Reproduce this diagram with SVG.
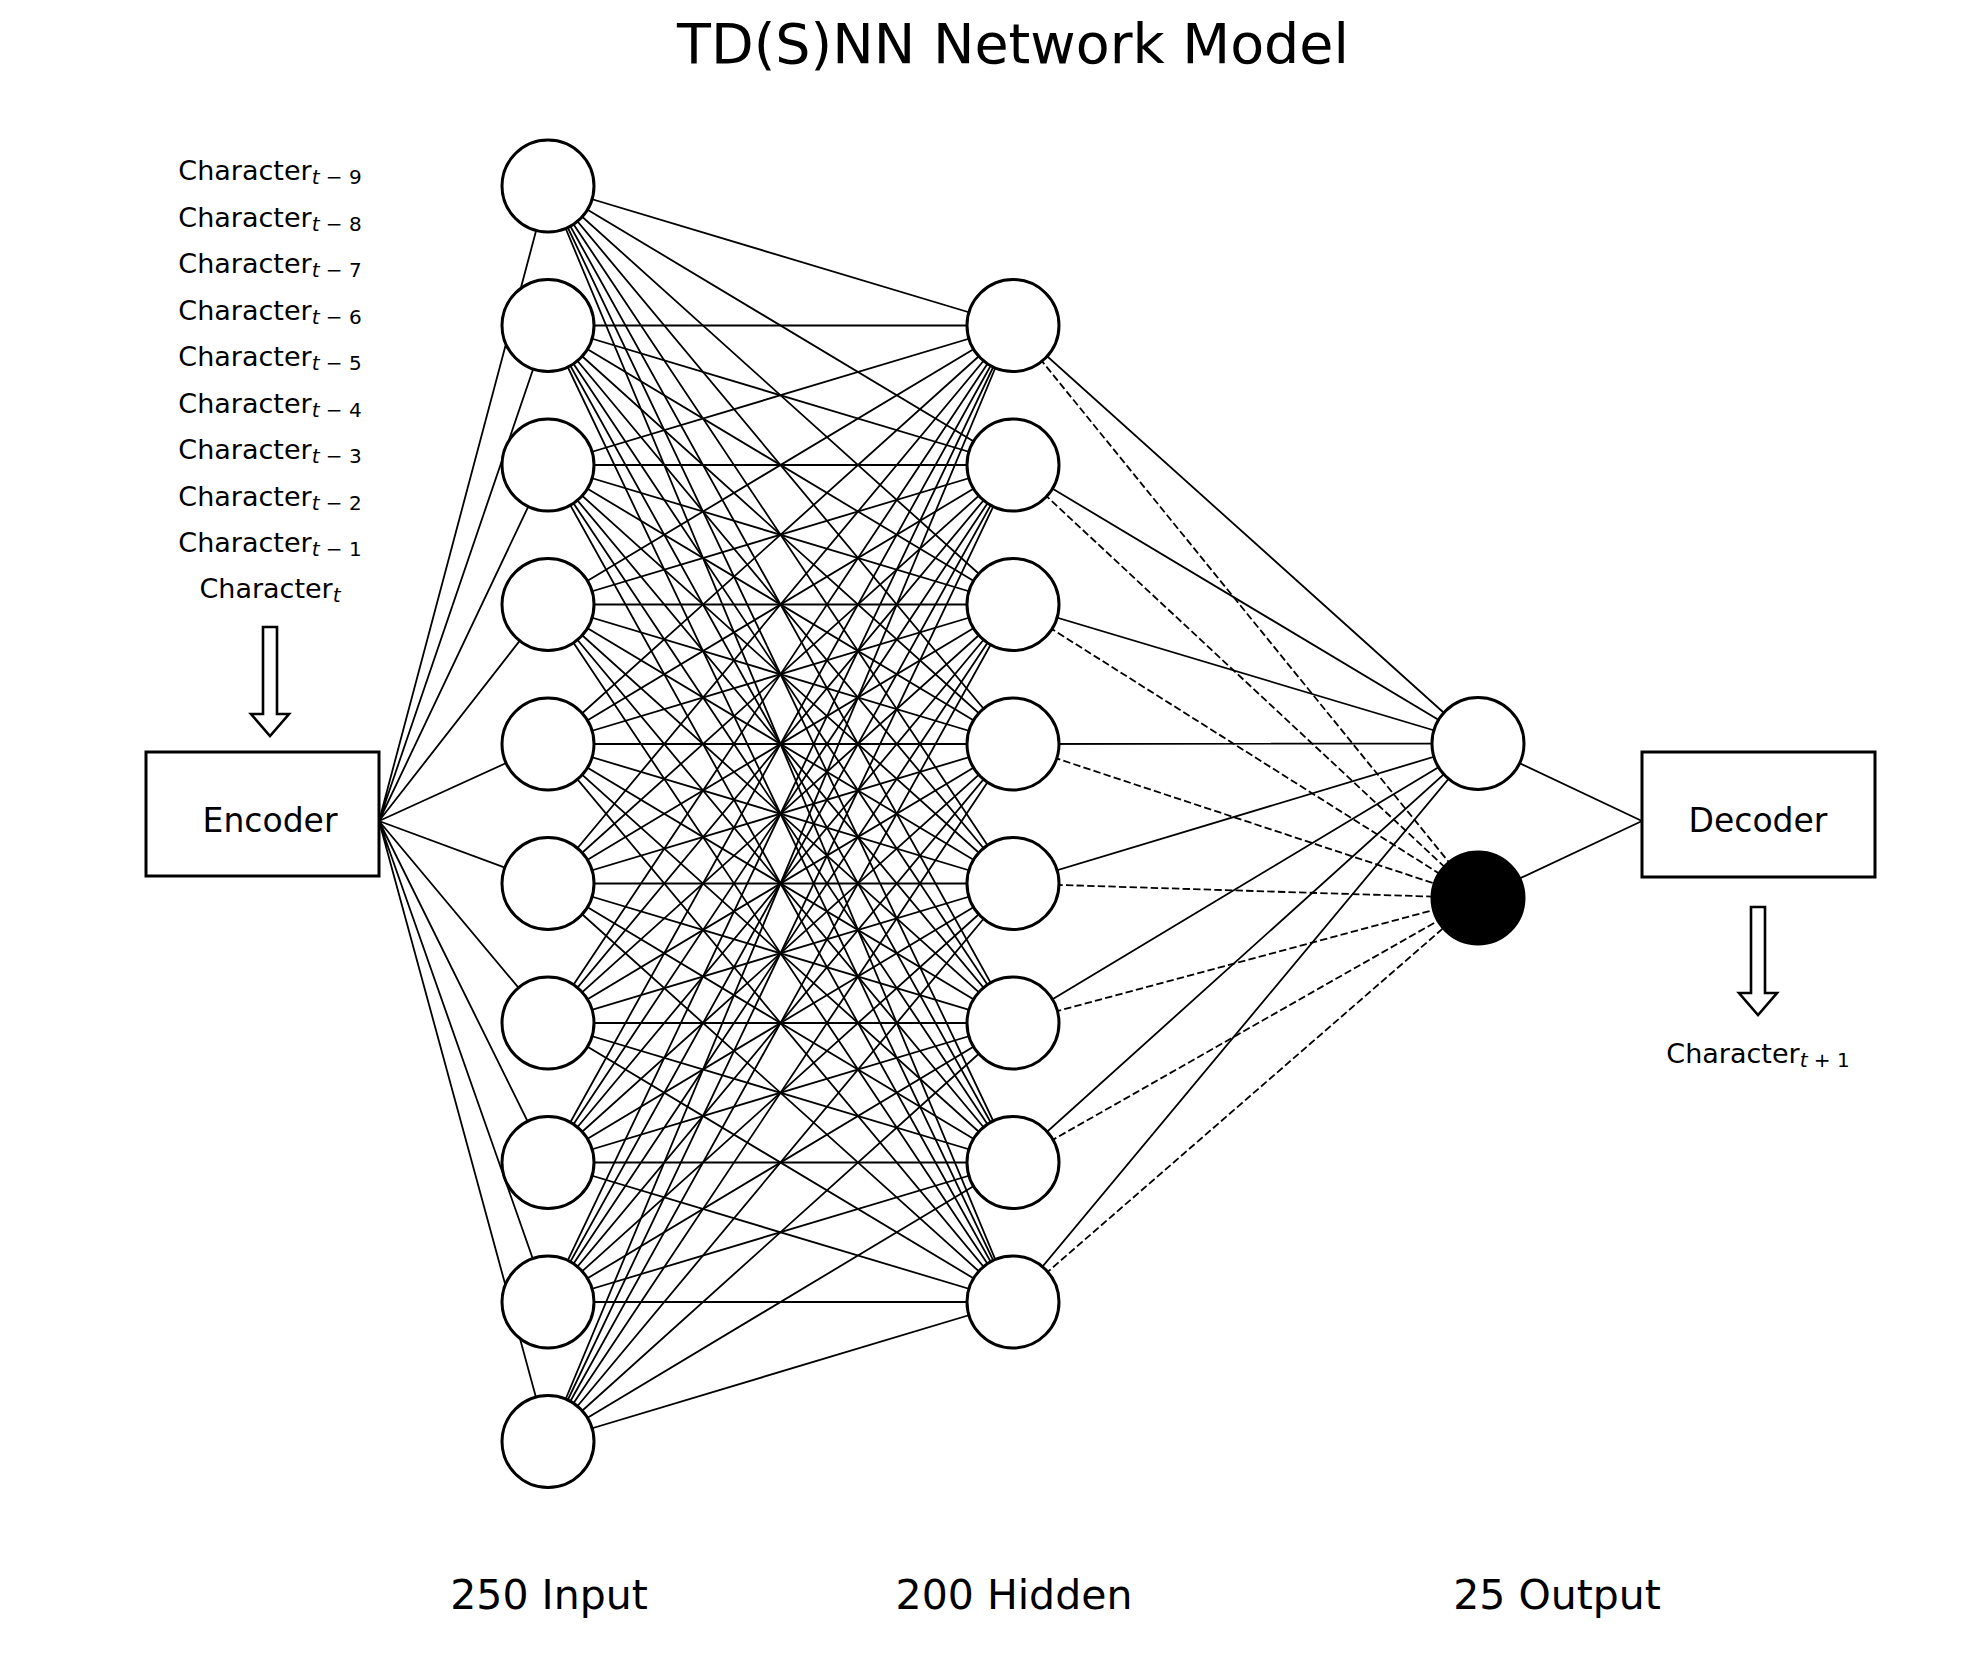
<svg xmlns="http://www.w3.org/2000/svg" width="1985" height="1664" viewBox="0 0 1985 1664">
<style>
text{font-family:"DejaVu Sans","Liberation Sans",sans-serif;fill:#000}
.lbl{font-size:27px;text-anchor:middle}
.sub{font-size:20px}
.it{font-style:italic}
.big{font-size:41px;text-anchor:middle}
.box{fill:#fff;stroke:#000;stroke-width:3}
.node{fill:#fff;stroke:#000;stroke-width:3}
.bnode{fill:#000;stroke:#000;stroke-width:3}
.e{stroke:#000;stroke-width:1.8;fill:none}
.d{stroke:#000;stroke-width:1.8;fill:none;stroke-dasharray:7.4 3.2}
.arrow{fill:#fff;stroke:#000;stroke-width:2.6;stroke-linejoin:miter}
</style>
<rect width="1985" height="1664" fill="#fff"/>
<text x="1013" y="63" font-size="55.5" text-anchor="middle">TD(S)NN Network Model</text>

<g id="labels">
<text class="lbl" x="270" y="180">Character<tspan class="sub it" dy="4">t</tspan><tspan class="sub"> − 9</tspan></text>
<text class="lbl" x="270" y="226.5">Character<tspan class="sub it" dy="4">t</tspan><tspan class="sub"> − 8</tspan></text>
<text class="lbl" x="270" y="273">Character<tspan class="sub it" dy="4">t</tspan><tspan class="sub"> − 7</tspan></text>
<text class="lbl" x="270" y="319.5">Character<tspan class="sub it" dy="4">t</tspan><tspan class="sub"> − 6</tspan></text>
<text class="lbl" x="270" y="366">Character<tspan class="sub it" dy="4">t</tspan><tspan class="sub"> − 5</tspan></text>
<text class="lbl" x="270" y="412.5">Character<tspan class="sub it" dy="4">t</tspan><tspan class="sub"> − 4</tspan></text>
<text class="lbl" x="270" y="459">Character<tspan class="sub it" dy="4">t</tspan><tspan class="sub"> − 3</tspan></text>
<text class="lbl" x="270" y="505.5">Character<tspan class="sub it" dy="4">t</tspan><tspan class="sub"> − 2</tspan></text>
<text class="lbl" x="270" y="552">Character<tspan class="sub it" dy="4">t</tspan><tspan class="sub"> − 1</tspan></text>
<text class="lbl" x="270" y="598">Character<tspan class="sub it" dy="4">t</tspan></text>
<text class="lbl" x="1758" y="1063">Character<tspan class="sub it" dy="4">t</tspan><tspan class="sub"> + 1</tspan></text>
<text class="big" x="549" y="1609">250 Input</text>
<text class="big" x="1014" y="1609">200 Hidden</text>
<text class="big" x="1557" y="1609">25 Output</text>
</g>

<g id="connectors">
<path class="e" d="M379 821L548 186M379 821L548 325.5M379 821L548 465M379 821L548 604.5M379 821L548 744M379 821L548 883.5M379 821L548 1023M379 821L548 1162.5M379 821L548 1302M379 821L548 1441.5"/>
<path class="e" d="M548 186L1013 325.5M548 186L1013 465M548 186L1013 604.5M548 186L1013 744M548 186L1013 883.5M548 186L1013 1023M548 186L1013 1162.5M548 186L1013 1302"/>
<path class="e" d="M548 325.5L1013 325.5M548 325.5L1013 465M548 325.5L1013 604.5M548 325.5L1013 744M548 325.5L1013 883.5M548 325.5L1013 1023M548 325.5L1013 1162.5M548 325.5L1013 1302"/>
<path class="e" d="M548 465L1013 325.5M548 465L1013 465M548 465L1013 604.5M548 465L1013 744M548 465L1013 883.5M548 465L1013 1023M548 465L1013 1162.5M548 465L1013 1302"/>
<path class="e" d="M548 604.5L1013 325.5M548 604.5L1013 465M548 604.5L1013 604.5M548 604.5L1013 744M548 604.5L1013 883.5M548 604.5L1013 1023M548 604.5L1013 1162.5M548 604.5L1013 1302"/>
<path class="e" d="M548 744L1013 325.5M548 744L1013 465M548 744L1013 604.5M548 744L1013 744M548 744L1013 883.5M548 744L1013 1023M548 744L1013 1162.5M548 744L1013 1302"/>
<path class="e" d="M548 883.5L1013 325.5M548 883.5L1013 465M548 883.5L1013 604.5M548 883.5L1013 744M548 883.5L1013 883.5M548 883.5L1013 1023M548 883.5L1013 1162.5M548 883.5L1013 1302"/>
<path class="e" d="M548 1023L1013 325.5M548 1023L1013 465M548 1023L1013 604.5M548 1023L1013 744M548 1023L1013 883.5M548 1023L1013 1023M548 1023L1013 1162.5M548 1023L1013 1302"/>
<path class="e" d="M548 1162.5L1013 325.5M548 1162.5L1013 465M548 1162.5L1013 604.5M548 1162.5L1013 744M548 1162.5L1013 883.5M548 1162.5L1013 1023M548 1162.5L1013 1162.5M548 1162.5L1013 1302"/>
<path class="e" d="M548 1302L1013 325.5M548 1302L1013 465M548 1302L1013 604.5M548 1302L1013 744M548 1302L1013 883.5M548 1302L1013 1023M548 1302L1013 1162.5M548 1302L1013 1302"/>
<path class="e" d="M548 1441.5L1013 325.5M548 1441.5L1013 465M548 1441.5L1013 604.5M548 1441.5L1013 744M548 1441.5L1013 883.5M548 1441.5L1013 1023M548 1441.5L1013 1162.5M548 1441.5L1013 1302"/>
<path class="e" d="M1013 325.5L1478 743.5M1013 465L1478 743.5M1013 604.5L1478 743.5M1013 744L1478 743.5M1013 883.5L1478 743.5M1013 1023L1478 743.5M1013 1162.5L1478 743.5M1013 1302L1478 743.5"/>
<path class="d" d="M1013 325.5L1478 898M1013 465L1478 898M1013 604.5L1478 898M1013 744L1478 898M1013 883.5L1478 898M1013 1023L1478 898M1013 1162.5L1478 898M1013 1302L1478 898"/>
<path class="e" d="M1478 743.5L1642 821M1478 898L1642 821"/>
<polygon class="arrow" points="263,627 277,627 277,714 289,714 270,736 251,714 263,714"/>
<polygon class="arrow" points="1751,907 1765,907 1765,993 1777,993 1758,1015 1739,993 1751,993"/>
</g>

<g id="encoder"><rect class="box" x="146" y="752" width="233" height="124"/><text x="270" y="832" font-size="33" text-anchor="middle">Encoder</text></g>
<g id="decoder"><rect class="box" x="1642" y="752" width="233" height="125"/><text x="1758" y="832" font-size="33" text-anchor="middle">Decoder</text></g>

<g id="input-layer">
<circle id="in0" class="node" cx="548" cy="186" r="46"/>
<circle id="in1" class="node" cx="548" cy="325.5" r="46"/>
<circle id="in2" class="node" cx="548" cy="465" r="46"/>
<circle id="in3" class="node" cx="548" cy="604.5" r="46"/>
<circle id="in4" class="node" cx="548" cy="744" r="46"/>
<circle id="in5" class="node" cx="548" cy="883.5" r="46"/>
<circle id="in6" class="node" cx="548" cy="1023" r="46"/>
<circle id="in7" class="node" cx="548" cy="1162.5" r="46"/>
<circle id="in8" class="node" cx="548" cy="1302" r="46"/>
<circle id="in9" class="node" cx="548" cy="1441.5" r="46"/>
</g>
<g id="hidden-layer">
<circle id="h0" class="node" cx="1013" cy="325.5" r="46"/>
<circle id="h1" class="node" cx="1013" cy="465" r="46"/>
<circle id="h2" class="node" cx="1013" cy="604.5" r="46"/>
<circle id="h3" class="node" cx="1013" cy="744" r="46"/>
<circle id="h4" class="node" cx="1013" cy="883.5" r="46"/>
<circle id="h5" class="node" cx="1013" cy="1023" r="46"/>
<circle id="h6" class="node" cx="1013" cy="1162.5" r="46"/>
<circle id="h7" class="node" cx="1013" cy="1302" r="46"/>
</g>
<g id="output-layer">
<circle id="o0" class="node" cx="1478" cy="743.5" r="46"/>
<circle id="o1" class="bnode" cx="1478" cy="898" r="46"/>
</g>
</svg>
